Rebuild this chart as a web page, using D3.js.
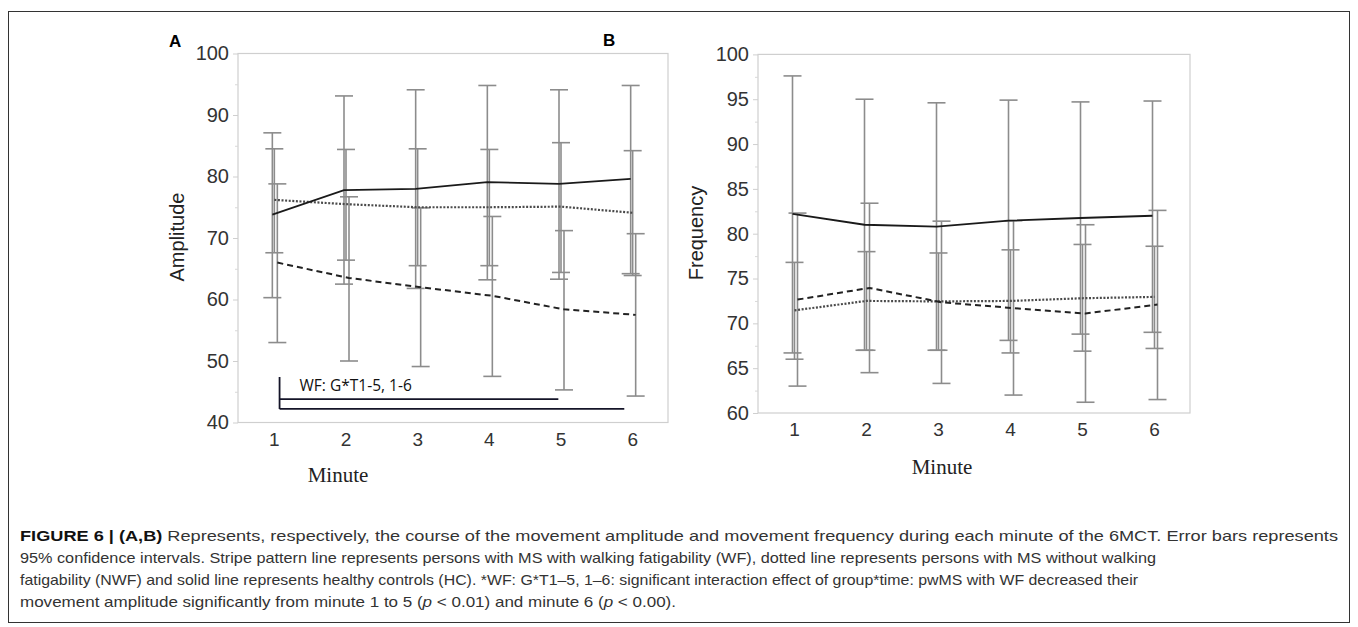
<!DOCTYPE html>
<html><head><meta charset="utf-8">
<script src="https://cdn.jsdelivr.net/npm/d3@7/dist/d3.min.js"></script>
<style>
body{margin:0;background:#fff;}
svg{display:block;}
</style></head>
<body>
<svg id="chart" width="1358" height="627"></svg>
<script>
// ---------- data ----------
const minutes = [1, 2, 3, 4, 5, 6];

// Panel A: Amplitude
const ampHC     = [73.8, 77.8, 78.0, 79.1, 78.8, 79.6];
const ampHCLo   = [60.3, 62.5, 61.8, 63.2, 63.3, 64.2];
const ampHCHi   = [87.1, 93.1, 94.1, 94.8, 94.1, 94.8];
const ampNWF    = [76.2, 75.5, 75.0, 75.0, 75.1, 74.1];
const ampNWFLo  = [67.6, 66.4, 65.5, 65.5, 64.4, 63.9];
const ampNWFHi  = [84.5, 84.4, 84.5, 84.4, 85.5, 84.2];
const ampWF     = [66.0, 63.5, 62.0, 60.6, 58.4, 57.5];
const ampWFLo   = [53.0, 50.0, 49.1, 47.5, 45.3, 44.3];
const ampWFHi   = [78.8, 76.7, 74.9, 73.5, 71.2, 70.7];
const ampTicks  = [40, 50, 60, 70, 80, 90, 100];
const ampMinor  = [45, 55, 65, 75, 85, 95];

// Panel B: Frequency
const freqHC    = [82.2, 81.0, 80.8, 81.45, 81.75, 82.0];
const freqHCLo  = [66.7, 67.0, 67.0, 68.1, 68.8, 69.0];
const freqHCHi  = [97.6, 95.0, 94.6, 94.9, 94.7, 94.8];
const freqNWF   = [71.45, 72.5, 72.45, 72.5, 72.8, 72.95];
const freqNWFLo = [66.0, 67.0, 67.0, 66.7, 66.9, 67.2];
const freqNWFHi = [76.8, 78.0, 77.85, 78.2, 78.8, 78.6];
const freqWF    = [72.65, 73.95, 72.35, 71.7, 71.1, 72.1];
const freqWFLo  = [63.0, 64.5, 63.3, 62.0, 61.2, 61.5];
const freqWFHi  = [82.3, 83.4, 81.4, 81.45, 81.0, 82.6];
const freqTicks = [60, 65, 70, 75, 80, 85, 90, 95, 100];
const freqMinor = [62.5, 67.5, 72.5, 77.5, 82.5, 87.5, 92.5, 97.5];

// significance bracket (panel A)
const bracketLabel = "WF: G*T1-5, 1-6";
const bracketStart = 1.08;
const bracketEnds  = [4.97, 5.89];
const bracketYs    = [43.8, 42.2];
const bracketTop   = 47.4;

const captionLines = [
  [{t:"FIGURE 6 | (A,B)", b:true}, {t:" Represents, respectively, the course of the movement amplitude and movement frequency during each minute of the 6MCT. Error bars represents"}],
  [{t:"95% confidence intervals. Stripe pattern line represents persons with MS with walking fatigability (WF), dotted line represents persons with MS without walking"}],
  [{t:"fatigability (NWF) and solid line represents healthy controls (HC). *WF: G*T1\u20135, 1\u20136: significant interaction effect of group*time: pwMS with WF decreased their"}],
  [{t:"movement amplitude significantly from minute 1 to 5 ("}, {t:"p", i:true}, {t:" < 0.01) and minute 6 ("}, {t:"p", i:true}, {t:" < 0.00)."}]
];
const captionWidths = [1318, 1136, 1118, 656];

// ---------- drawing ----------
const svg = d3.select("#chart");
svg.append("rect").attr("x", 8.5).attr("y", 11.5).attr("width", 1341).attr("height", 611)
  .attr("fill", "none").attr("stroke", "#333").attr("stroke-width", 1);

const groups = [
  {key:"NWF", off: 0.5, dash:"2,1.6",   color:"#4a4a4a", width:2.2},
  {key:"WF",  off: 3.5, dash:"6,4",     color:"#222", width:2},
  {key:"HC",  off:-1.5, dash:null,      color:"#1a1a1a", width:1.8}
];

function panel(cfg) {
  const x = d3.scaleLinear().domain([0.5, 6.5]).range(cfg.xr);
  const y = d3.scaleLinear().domain(cfg.yd).range(cfg.yr);
  const g = svg.append("g");

  // box
  g.append("rect").attr("x", cfg.xr[0]).attr("y", cfg.yr[1])
    .attr("width", cfg.xr[1]-cfg.xr[0]).attr("height", cfg.yr[0]-cfg.yr[1])
    .attr("fill", "none").attr("stroke", "#cfcfcf").attr("stroke-width", 1.2);

  // y axis
  const ya = g.append("g").attr("transform", `translate(${cfg.xr[0]},0)`)
    .call(d3.axisLeft(y).tickValues(cfg.ticks).tickSize(5).tickPadding(4).tickFormat(d3.format("d")));
  ya.select(".domain").remove();
  ya.selectAll("line").attr("stroke", "#cfcfcf");
  ya.selectAll("text").attr("font-family", "Liberation Sans, Arial, sans-serif")
    .attr("font-size", 20).attr("fill", "#333");
  const ym = g.append("g").attr("transform", `translate(${cfg.xr[0]},0)`)
    .call(d3.axisLeft(y).tickValues(cfg.minor).tickSize(3).tickFormat(""));
  ym.select(".domain").remove();
  ym.selectAll("line").attr("stroke", "#d8d8d8");

  // x axis
  const xa = g.append("g").attr("transform", `translate(0,${cfg.yr[0]})`)
    .call(d3.axisBottom(x).tickValues(minutes).tickSize(0).tickPadding(10).tickFormat(d3.format("d")));
  xa.select(".domain").remove();
  xa.selectAll("text").attr("font-family", "Liberation Sans, Arial, sans-serif")
    .attr("font-size", 19).attr("fill", "#333");

  // error bars
  const capW = 9;
  groups.forEach(gr => {
    const lo = cfg.data[gr.key].lo, hi = cfg.data[gr.key].hi;
    const eb = g.append("g").attr("stroke", "#8c8c8c").attr("stroke-width", 1.6).attr("fill", "none");
    minutes.forEach((m, i) => {
      const cx = x(m) + gr.off;
      eb.append("line").attr("x1", cx).attr("x2", cx).attr("y1", y(lo[i])).attr("y2", y(hi[i]));
      eb.append("line").attr("x1", cx-capW).attr("x2", cx+capW).attr("y1", y(lo[i])).attr("y2", y(lo[i]));
      eb.append("line").attr("x1", cx-capW).attr("x2", cx+capW).attr("y1", y(hi[i])).attr("y2", y(hi[i]));
    });
  });

  // mean lines
  groups.forEach(gr => {
    const vals = cfg.data[gr.key].mean;
    const line = d3.line().x((d, i) => x(minutes[i]) + gr.off).y(d => y(d));
    const p = g.append("path").attr("d", line(vals)).attr("fill", "none")
      .attr("stroke", gr.color).attr("stroke-width", gr.width);
    if (gr.dash) p.attr("stroke-dasharray", gr.dash);
  });

  // y title
  g.append("text").attr("transform", `translate(${cfg.ytx},${cfg.yty}) rotate(-90)`)
    .attr("text-anchor", "middle").attr("font-family", "Liberation Sans, Arial, sans-serif")
    .attr("font-size", 20).attr("fill", "#222").text(cfg.ytitle);
  // x title
  g.append("text").attr("x", cfg.xtx).attr("y", cfg.xty).attr("text-anchor", "middle")
    .attr("font-family", "Liberation Serif, Times New Roman, serif").attr("font-size", 21)
    .attr("fill", "#222").text("Minute");
  // panel letter
  g.append("text").attr("x", cfg.lx).attr("y", cfg.ly).attr("font-family", "Liberation Sans, Arial, sans-serif")
    .attr("font-weight", "bold").attr("font-size", 17).attr("fill", "#000").text(cfg.letter);

  return {x, y, g};
}

const A = panel({
  xr:[238, 668], yd:[40, 100], yr:[422.5, 53.5], ticks: ampTicks, minor: ampMinor,
  data:{HC:{mean:ampHC, lo:ampHCLo, hi:ampHCHi}, NWF:{mean:ampNWF, lo:ampNWFLo, hi:ampNWFHi}, WF:{mean:ampWF, lo:ampWFLo, hi:ampWFHi}},
  ytitle:"Amplitude", ytx:184, yty:237, xtx:338, xty:482, letter:"A", lx:169, ly:47
});
const B = panel({
  xr:[758, 1190], yd:[60, 100], yr:[413, 54.4], ticks: freqTicks, minor: freqMinor,
  data:{HC:{mean:freqHC, lo:freqHCLo, hi:freqHCHi}, NWF:{mean:freqNWF, lo:freqNWFLo, hi:freqNWFHi}, WF:{mean:freqWF, lo:freqWFLo, hi:freqWFHi}},
  ytitle:"Frequency", ytx:703, yty:233, xtx:942, xty:474, letter:"B", lx:603, ly:46
});

// bracket in A
const bg = A.g.append("g").attr("stroke", "#141428").attr("stroke-width", 1.8).attr("fill", "none");
bg.append("line").attr("x1", A.x(bracketStart)).attr("x2", A.x(bracketStart))
  .attr("y1", A.y(bracketTop)).attr("y2", A.y(bracketYs[1]));
bracketEnds.forEach((e, i) => {
  bg.append("line").attr("x1", A.x(bracketStart)).attr("x2", A.x(e))
    .attr("y1", A.y(bracketYs[i])).attr("y2", A.y(bracketYs[i]));
});
A.g.append("text").attr("x", A.x(bracketStart) + 20).attr("y", A.y(bracketTop) + 14)
  .attr("font-family", "Open Sans, Liberation Sans, sans-serif").attr("font-size", 15.5)
  .attr("fill", "#111").text(bracketLabel);

// caption
const cap = svg.append("g").attr("font-family", "Liberation Sans, Arial, sans-serif")
  .attr("font-size", 15).attr("fill", "#333");
captionLines.forEach((ln, i) => {
  const t = cap.append("text").attr("x", 20).attr("y", 541 + i * 22)
    .attr("textLength", captionWidths[i]).attr("lengthAdjust", "spacingAndGlyphs");
  ln.forEach(seg => {
    const s = t.append("tspan").text(seg.t);
    if (seg.b) s.attr("font-weight", "bold").attr("fill", "#111");
    if (seg.i) s.attr("font-style", "italic");
  });
});
</script>
</body></html>
